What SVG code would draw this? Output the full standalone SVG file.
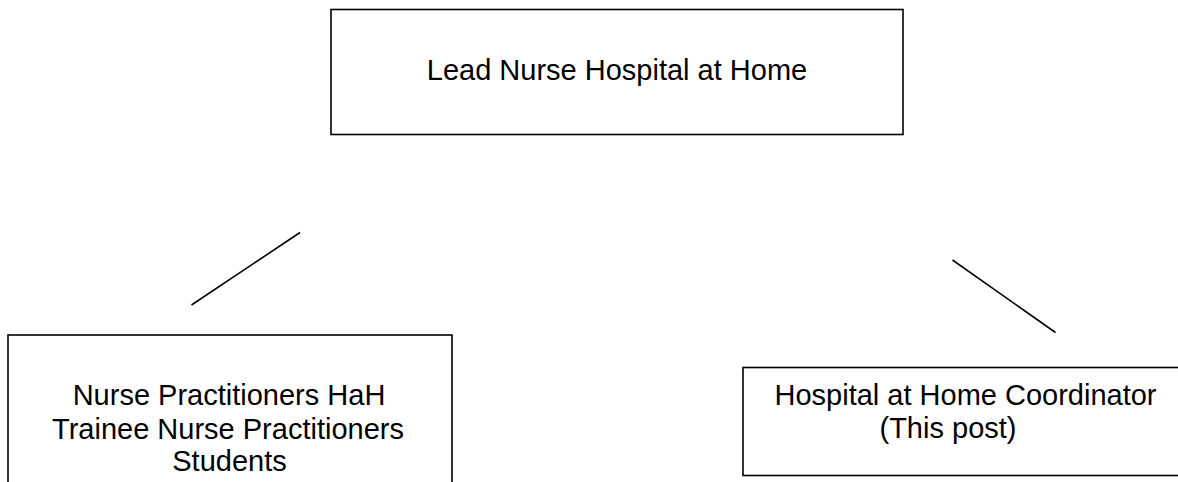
<svg xmlns="http://www.w3.org/2000/svg" width="1178" height="482" viewBox="0 0 1178 482">
<style>
.box{fill:#fff;stroke:#000;stroke-width:1.6}
.lbl{font-family:"Liberation Sans",Arial,sans-serif;font-size:29px;fill:#000;text-anchor:middle}
.conn{stroke:#000;stroke-width:1.6;fill:none}
</style>
<rect width="1178" height="482" fill="#fff"/>
<g id="connectors">
<line class="conn" x1="191.5" y1="305" x2="300" y2="232.5"/>
<line class="conn" x1="952.5" y1="260" x2="1055.5" y2="332.5"/>
</g>
<g id="lead">
<rect class="box" x="331" y="9.5" width="572" height="125"/>
<text class="lbl" x="617" y="80">Lead Nurse Hospital at Home</text>
</g>
<g id="practitioners">
<rect class="box" x="8" y="335" width="444" height="200"/>
<text class="lbl" x="229" y="405">Nurse Practitioners HaH</text>
<text class="lbl" x="228" y="438.5">Trainee Nurse Practitioners</text>
<text class="lbl" x="229.5" y="471">Students</text>
</g>
<g id="coordinator">
<rect class="box" x="743" y="367.5" width="460" height="108"/>
<text class="lbl" x="965.5" y="405">Hospital at Home Coordinator</text>
<text class="lbl" x="948" y="438">(This post)</text>
</g>
</svg>
